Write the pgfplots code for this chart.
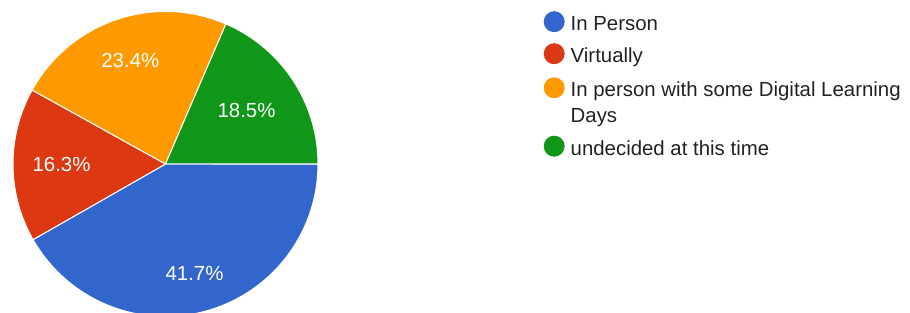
\documentclass[border=0pt]{standalone}
\usepackage{pgfplots}
\pgfplotsset{compat=1.18}
\usepackage{pgfplotstable}
\usepackage{fontspec}
\setmainfont{Liberation Sans}
\definecolor{gblue}{HTML}{3366CC}
\definecolor{gred}{HTML}{DC3912}
\definecolor{gorange}{HTML}{FF9900}
\definecolor{ggreen}{HTML}{109618}
\definecolor{legtext}{HTML}{222222}

% strut: height 19.5pt, depth 4.3pt -> node centre 7.6pt above baseline
\newcommand\lst{\rule[-4.3pt]{0pt}{23.8pt}}

\pgfplotsset{
  base/.style={scale only axis, width=910pt, height=313pt,
    xmin=0, xmax=910, ymin=0, ymax=313, hide axis},
  legax/.style={base,
    legend image code/.code={\fill[##1, draw=none] (10.5pt,0pt) circle (10.5pt);},
    legend style={draw=none, fill=none, inner sep=0pt, anchor=west,
      font=\fontsize{20.4}{25.5}\selectfont, text=legtext,
      column sep=6pt, nodes={inner sep=0pt}, cells={anchor=west}}},
  nolegimg/.style={legend image code/.code={\path[draw=none, fill=none] (0pt,-10.5pt) rectangle (21pt,10.5pt);}},
}

\pgfplotstableread{
slice value labr
0 41.7 113
1 16.3 104
2 23.4 109
3 18.5 97
}\piedata

\pgfplotstablegetelem{0}{value}\of\piedata \let\vA\pgfplotsretval
\pgfplotstablegetelem{1}{value}\of\piedata \let\vB\pgfplotsretval
\pgfplotstablegetelem{2}{value}\of\piedata \let\vC\pgfplotsretval
\pgfplotstablegetelem{3}{value}\of\piedata \let\vD\pgfplotsretval
\pgfplotstablegetelem{0}{labr}\of\piedata \let\rA\pgfplotsretval
\pgfplotstablegetelem{1}{labr}\of\piedata \let\rB\pgfplotsretval
\pgfplotstablegetelem{2}{labr}\of\piedata \let\rC\pgfplotsretval
\pgfplotstablegetelem{3}{labr}\of\piedata \let\rD\pgfplotsretval

\pgfmathsetmacro\tot{\vA+\vB+\vC+\vD}
\pgfmathsetmacro\aA{-360*\vA/\tot}
\pgfmathsetmacro\aB{\aA-360*\vB/\tot}
\pgfmathsetmacro\aC{\aB-360*\vC/\tot}
\def\aD{-360}
\pgfmathsetmacro\mA{\aA/2}
\pgfmathsetmacro\mB{(\aA+\aB)/2}
\pgfmathsetmacro\mC{(\aB+\aC)/2}
\pgfmathsetmacro\mD{(\aC+\aD)/2}

\def\cx{165.5}
\def\cy{149}
\def\R{152.5}
\def\legx{0.59725}% 543.5/910

\begin{document}
\begin{tikzpicture}
\begin{axis}[base, clip=true]
\addplot[fill=gblue, draw=white, line width=1pt, domain=\aA:0, samples=150, variable=\t]
  ({\cx+\R*cos(\t)},{\cy+\R*sin(\t)}) -- (axis cs:\cx,\cy) -- cycle;
\addplot[fill=gred, draw=white, line width=1pt, domain=\aB:\aA, samples=80, variable=\t]
  ({\cx+\R*cos(\t)},{\cy+\R*sin(\t)}) -- (axis cs:\cx,\cy) -- cycle;
\addplot[fill=gorange, draw=white, line width=1pt, domain=\aC:\aB, samples=100, variable=\t]
  ({\cx+\R*cos(\t)},{\cy+\R*sin(\t)}) -- (axis cs:\cx,\cy) -- cycle;
\addplot[fill=ggreen, draw=white, line width=1pt, domain=\aD:\aC, samples=80, variable=\t]
  ({\cx+\R*cos(\t)},{\cy+\R*sin(\t)}) -- (axis cs:\cx,\cy) -- cycle;

\node[text=white, font=\fontsize{20.4}{24}\selectfont] at (axis cs:{\cx+\rA*cos(\mA)},{\cy+\rA*sin(\mA)}) {\vA\%};
\node[text=white, font=\fontsize{20.4}{24}\selectfont] at (axis cs:{\cx+\rB*cos(\mB)},{\cy+\rB*sin(\mB)}) {\vB\%};
\node[text=white, font=\fontsize{20.4}{24}\selectfont] at (axis cs:{\cx+\rC*cos(\mC)},{\cy+\rC*sin(\mC)}) {\vC\%};
\node[text=white, font=\fontsize{20.4}{24}\selectfont] at (axis cs:{\cx+\rD*cos(\mD)},{\cy+\rD*sin(\mD)}) {\vD\%};
\end{axis}

% legend, one entry per (hidden) overlay axis
\begin{axis}[legax, legend style={at={(axis description cs:\legx,0.9307)}}]
\addlegendimage{fill=gblue, draw=none}
\addlegendentry{\lst In Person}
\end{axis}
\begin{axis}[legax, legend style={at={(axis description cs:\legx,0.8284)}}]
\addlegendimage{fill=gred, draw=none}
\addlegendentry{\lst Virtually}
\end{axis}
\begin{axis}[legax, legend style={at={(axis description cs:\legx,0.7195)}}]
\addlegendimage{fill=gorange, draw=none}
\addlegendentry{\lst In person with some Digital Learning}
\end{axis}
\begin{axis}[legax, legend style={at={(axis description cs:\legx,0.6361)}}]
\addlegendimage{nolegimg, draw=none, fill=none}
\addlegendentry{\lst Days}
\end{axis}
\begin{axis}[legax, legend style={at={(axis description cs:\legx,0.5329)}}]
\addlegendimage{fill=ggreen, draw=none}
\addlegendentry{\lst undecided at this time}
\end{axis}

\pgfresetboundingbox
\useasboundingbox (current axis.south west) rectangle (current axis.north east);
\end{tikzpicture}
\end{document}
